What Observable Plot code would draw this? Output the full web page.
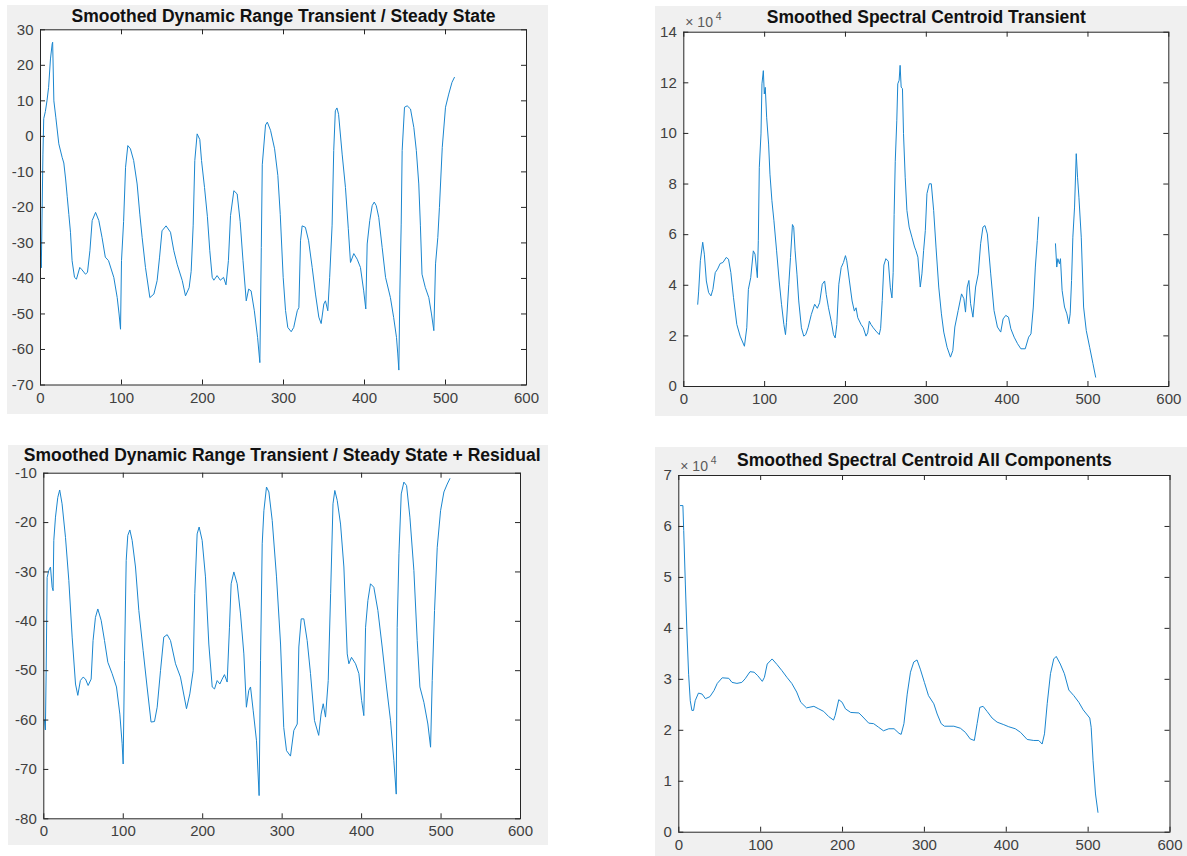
<!DOCTYPE html>
<html>
<head>
<meta charset="utf-8">
<script src="https://cdn.jsdelivr.net/npm/d3@7"></script>
<script src="https://cdn.jsdelivr.net/npm/@observablehq/plot@0.6"></script>
<style>
  html, body { margin: 0; padding: 0; background: #ffffff; }
  #root { position: relative; width: 1187px; height: 856px; overflow: hidden; }
  .panel { position: absolute; background: #f0f0f0; }
  .panel svg { display: block; }
</style>
</head>
<body>
<div id="root"></div>
<script>
// ---------- shared ticks ----------
const xTicks = [0, 100, 200, 300, 400, 500, 600];

// ---------- Panel 1: Smoothed Dynamic Range Transient / Steady State ----------
const drTitle = "Smoothed Dynamic Range Transient / Steady State";
const drYTicks = [-70, -60, -50, -40, -30, -20, -10, 0, 10, 20, 30];
const drX = [0,1,3,4,6,8,10,12.3,14.4,15,16.5,18.9,22.6,26.7,28.8,31,33,35,37,39,42,44.4,48.5,50.6,55.5,58,61,63.8,68,72,76,80,84,90.5,94.7,97,98.8,100,102.6,105,107.8,111,115,119.3,122.6,125.5,129.6,135,140,144,147,150,155,160.5,164.6,168.7,175,179,183.5,186,188.5,190.5,193.4,196.7,198.8,202.5,206,209,212,214,218,222,226,229,232,234.6,238.7,242.8,246.5,250,254,257,260,264,268,270.8,272.6,273.8,277.8,280,284,289,293,296,299.6,302.5,305.3,309.5,312.6,317,319,321,323,327,331,335.4,339.5,343.6,346.5,349.8,351.8,354.7,357,360,362,364,366,368,372.4,376.5,380,382.7,386.8,391,395,399,401.6,403.3,406.5,409.5,412,414.5,417.6,421.8,426,432,436,439.5,441,442.4,443.6,445.3,446.5,449.4,452.7,456.8,460.9,464,467,469,471,475,479.4,482.7,485.6,487.7,490.5,492.5,496,500,504,508,511];
const drY = [-34,-37,-5,5,7,10,13.8,21.8,26,26.5,10,5.4,-2.1,-5.9,-7.5,-12,-17,-22,-27,-35,-39.7,-40.2,-36.9,-37.4,-38.8,-38.3,-32.2,-23.7,-21.4,-23.7,-28.5,-34,-35,-39.7,-45.4,-50,-54.3,-35,-24,-8.7,-2.6,-3.5,-6.8,-13.4,-21.9,-28.5,-36.9,-45.4,-44.4,-40.6,-34,-26.6,-25.2,-27,-32.2,-36,-40.6,-44.9,-42.6,-38,-25,-6.8,0.7,-0.9,-6.8,-14.4,-22.5,-32.2,-39.7,-40.5,-39.2,-40.5,-39.7,-41.8,-35,-22.3,-15.3,-16.2,-24,-35,-46.3,-43,-43.5,-49.1,-56.6,-63.7,-31.3,-8,3.2,4.0,1.7,-3.5,-11,-22,-39.7,-49,-53.8,-55,-53.8,-49.1,-48.2,-29.4,-25.2,-25.6,-29.4,-36.9,-44.4,-50.9,-52.7,-47.2,-46.3,-49.1,-39.7,-25,-4,7.2,8.0,6.2,-5,-14.4,-26,-35.5,-33,-34.6,-36.9,-43.5,-48.6,-30.3,-23.7,-19.5,-18.5,-19.5,-22.8,-31.3,-39.7,-45.4,-51,-56.6,-61,-65.8,-44.4,-24.7,-4,8.2,8.6,7.7,2.5,-4,-13.4,-25,-38.8,-42.5,-45.4,-50,-54.7,-35.9,-28.5,-20,-3.1,8.2,11.9,15.2,16.6];

// ---------- Panel 2: Smoothed Spectral Centroid Transient (x10^4) ----------
const scTitle = "Smoothed Spectral Centroid Transient";
const scYTicks = [0, 2, 4, 6, 8, 10, 12, 14];
const scX = [17.2,18.4,20.5,23.4,25.4,27.9,30.7,33.6,36,38.9,41.8,45,48.4,52.5,55.3,58.2,61.5,65.6,69.7,75,77.9,79.9,82.8,86,88.1,91,92.2,93.4,95.5,96.7,98.4,99.6,100.8,102.5,104.9,106.6,109,111.5,114.8,118,120.9,123.8,125.8,127,129.9,132,134.4,136,137.7,140,142.2,145.5,148.4,150.8,153.7,157.8,161.9,165.2,168,171.3,174.2,176.2,179,182.4,185.2,187.3,189.3,191.8,194.7,197.5,200,201.6,204.9,208.2,211,213.1,215.2,219.3,222.1,225.4,227.5,229.5,231.6,234.4,237.7,241.8,243.5,245.5,247.5,250,253,255.5,257.5,259,260.2,261.6,263.5,264.7,266.4,267.6,268.9,270.5,271.8,273.9,276,278.8,282.2,285.5,287.1,289.6,292.5,294.6,296.7,298.8,300.8,303.7,306.2,309.1,312,315.4,318.7,321.6,325.7,329.9,332.8,335.3,339.4,343.6,346.5,348.5,350.6,352.7,354.8,357.7,361,364.3,367.2,370.1,372.6,375.5,379.7,383.8,388,392.1,395,398.3,401.7,404.6,408.7,412.9,417,422.4,426.6,429.5,432.4,434.9,437.3,439,450,459.8,461.4,462.7,464.7,466,468,471,473.9,476.3,478,479.7,481.3,483.4,485.5,487.1,488.8,491.7,494.6,497.9,502.1,506.2,509.5];
const scY = [3.25,3.77,4.97,5.70,5.23,4.17,3.71,3.58,3.84,4.50,4.64,4.86,4.90,5.10,5.03,4.50,3.51,2.45,1.99,1.59,2.32,3.84,4.30,5.36,5.23,4.30,5.76,8.66,9.98,11.96,12.48,11.56,11.82,10.64,9.58,8.39,7.34,6.55,5.36,4.17,3.25,2.45,2.05,2.52,4.04,5.10,6.40,6.29,5.36,4.44,3.38,2.32,1.99,2.05,2.32,2.85,3.25,3.09,3.31,4.04,4.17,3.64,3.11,2.58,2.05,1.92,2.45,4.04,4.70,4.90,5.17,4.97,4.17,3.38,2.98,3.11,2.72,2.45,2.32,1.99,2.12,2.58,2.45,2.32,2.19,2.05,2.3,3.4,4.8,5.05,4.95,3.9,3.5,4.5,6.8,8.9,10.5,11.96,12.1,12.69,11.83,11.77,9.99,8.27,6.96,6.30,5.90,5.51,5.38,5.11,3.93,4.45,5.38,6.17,7.62,8.01,8.01,6.96,5.51,3.93,2.87,2.15,1.55,1.16,1.42,2.35,3.0,3.66,3.47,2.94,3.93,4.19,3.27,2.74,3.93,4.45,5.64,6.30,6.36,6.03,4.45,3.0,2.35,2.15,2.67,2.81,2.74,2.28,1.95,1.69,1.49,1.49,1.95,2.08,3.14,4.72,5.77,6.69,NaN,5.64,4.72,5.05,4.85,5.05,3.80,3.14,2.87,2.48,2.87,4.19,5.90,7.09,9.20,8.27,7.48,5.90,3.14,2.21,1.55,0.90,0.37];

// ---------- Panel 3: Smoothed Dynamic Range Transient / Steady State + Residual ----------
const drrTitle = "Smoothed Dynamic Range Transient / Steady State + Residual";
const drrYTicks = [-80, -70, -60, -50, -40, -30, -20, -10];
const drrX = [1,2,3,4.2,6.3,8.4,10.5,11.7,12.6,14.7,17.6,20,23,27.3,31.5,35.7,39.9,42.8,46,49.5,52.5,55.8,59.6,62,65,68,72.2,76.4,80.6,86,91.5,95.7,98.6,99.9,101.6,103.7,105.7,108.3,111.2,115.4,119.6,125,130,135,139.3,142.7,146.9,151,155.3,159.5,165.8,172,179.6,183.8,188,190,193,195.5,199.3,203.5,207.7,212,214.9,218.2,221.6,224.5,227.4,230.8,233.7,235.8,239.2,243.4,247.6,251.8,255,258,260.2,263.5,267.7,271,272.8,274.9,277,280.3,283.3,287.5,292.9,298,302,305.5,310.5,314.7,319,321,324,327.3,331.5,335.7,340.7,346,349,351.7,354.6,358,361,364,366.3,369.3,373.5,377.7,381.9,384,387.3,392.4,396.6,400,402.8,405,407.9,411.2,415.4,420.5,425.9,431.4,436.4,440.6,443.6,444.8,447,449.9,453.2,456.6,460.8,465.8,470,473.4,478.4,483.4,486.8,488.9,491.8,495.2,499.4,503.6,507.8,511.1];
const drrY = [-60,-62,-50,-31.1,-29.7,-29,-33.1,-33.8,-23.6,-18.9,-14.9,-13.4,-16.2,-23,-31.7,-43.2,-52.7,-55,-52,-51.3,-51.7,-53,-51.7,-43.9,-39.2,-37.5,-39.8,-43.9,-48.3,-50.6,-53.3,-58.8,-64.8,-68.9,-47.9,-27.7,-22.6,-21.5,-23.6,-29,-37.8,-45.9,-53.3,-60.4,-60.3,-57.4,-50,-43.2,-42.7,-43.9,-48.6,-51.3,-57.7,-54.7,-50,-34.4,-22.3,-20.9,-23.6,-31,-44.6,-53.3,-53.7,-52,-52.7,-51.7,-50.8,-52.3,-41.2,-32.4,-30,-32.4,-38.5,-46.6,-57.4,-54,-53.3,-58,-64.2,-75.3,-47.9,-24.3,-17.6,-12.8,-13.8,-19.6,-31,-44.6,-61.5,-66.2,-67.3,-62.1,-60.8,-45.2,-39.5,-39.5,-43.9,-50.6,-60.1,-63.1,-58.8,-56.7,-59.4,-52,-34.4,-16.2,-13.5,-15.5,-20.3,-29,-46.6,-48.6,-47.3,-48.6,-50.6,-56,-59.1,-41.2,-35.8,-32.4,-33.1,-37.8,-45.2,-53.3,-60.1,-68.2,-75,-41.2,-26.3,-14.2,-11.8,-12.5,-18.9,-29.7,-43.9,-53.3,-56.4,-60.8,-65.5,-52,-37.8,-25,-17.6,-13.8,-12.2,-11.1];

// ---------- Panel 4: Smoothed Spectral Centroid All Components (x10^4) ----------
const scaTitle = "Smoothed Spectral Centroid All Components";
const scaYTicks = [0, 1, 2, 3, 4, 5, 6, 7];
const scaX = [2,5,6,8,10,12,14,16,18,20,24,28.5,32.5,38,43,47,53,61,65,71,77,81,87,92,96.5,102,104.6,108,114,120,126,132,138,144,149,156,165,171,177,183,189,191,195.4,199.5,203.6,210,220,225,232,238,244,250,256.5,263,269,271.6,275,279,283,287,291,295,300,305,311.5,315.6,320.5,324.5,336,344,350,356,361,364.4,367.7,371.7,376.6,382.7,388.8,397,403,411,417.4,425.5,433.6,439.7,443.8,446.7,450,454,458,461,466,471,476.4,482.5,488.6,494,502,503.7,506,509,512];
const scaY = [6.41,6.41,5.92,4.87,3.89,3.1,2.58,2.39,2.39,2.58,2.73,2.71,2.62,2.66,2.78,2.92,3.03,3.02,2.94,2.92,2.94,3.01,3.15,3.14,3.07,2.96,3.04,3.30,3.40,3.29,3.17,3.04,2.92,2.75,2.55,2.44,2.47,2.42,2.37,2.27,2.20,2.29,2.60,2.55,2.42,2.35,2.34,2.26,2.14,2.13,2.06,1.99,2.03,2.03,1.94,1.92,2.13,2.71,3.14,3.34,3.38,3.20,2.94,2.68,2.52,2.32,2.13,2.08,2.08,2.04,1.96,1.83,1.80,2.13,2.45,2.47,2.37,2.24,2.16,2.11,2.07,2.03,1.96,1.82,1.80,1.80,1.73,1.93,2.52,3.11,3.40,3.45,3.30,3.11,2.79,2.68,2.55,2.40,2.24,2.06,1.41,0.75,0.39];

// ---------- styling ----------
const FONT = "'Liberation Sans', Arial, Helvetica, sans-serif";
const LINE = "#1a86cf";
const AXIS = "#262626";
const LABEL = "#404040";

function panel(cfg) {
  const { gray, frame, title, titleGap, yDomain, yTicks, xs, ys, exponent } = cfg;
  const width = gray.w, height = gray.h;
  const marginLeft = frame.l - gray.x;
  const marginTop = frame.t - gray.y;
  const marginRight = gray.x + gray.w - frame.r;
  const marginBottom = gray.y + gray.h - frame.b;
  const innerW = width - marginLeft - marginRight;
  const innerH = height - marginTop - marginBottom;
  const data = xs.map((x, i) => ({ x, y: ys[i] }));
  const tick = 5;
  const marks = [
    Plot.frame({ fill: "white", stroke: null }),
    Plot.line(data, { x: "x", y: "y", stroke: LINE, strokeWidth: 1 }),
    Plot.tickX(xTicks, { x: d => d, insetTop: innerH - tick, stroke: AXIS }),
    Plot.tickX(xTicks, { x: d => d, insetBottom: innerH - tick, stroke: AXIS }),
    Plot.tickY(yTicks, { y: d => d, insetRight: innerW - tick, stroke: AXIS }),
    Plot.tickY(yTicks, { y: d => d, insetLeft: innerW - tick, stroke: AXIS }),
    Plot.axisX(xTicks, { anchor: "bottom", tickSize: 0, tickPadding: 7, tickFormat: d => String(d), fontSize: 15, color: LABEL, label: null }),
    Plot.axisY(yTicks, { anchor: "left", tickSize: 0, tickPadding: 7, tickFormat: d => String(d), fontSize: 15, color: LABEL, label: null }),
    Plot.frame({ stroke: AXIS, strokeWidth: 1 }),
    Plot.text([title], { text: d => d, frameAnchor: "top", lineAnchor: "bottom", dy: -titleGap, fontSize: 17.5, fontWeight: "bold", fill: "#111111" })
  ];
  if (exponent) {
    marks.push(
      Plot.text(["× 10"], { text: d => d, frameAnchor: "top-left", textAnchor: "start", lineAnchor: "bottom", dx: 1.5, dy: exponent.dy, fontSize: 14, fill: "#5a5a5a" }),
      Plot.text(["4"], { text: d => d, frameAnchor: "top-left", textAnchor: "start", lineAnchor: "bottom", dx: 32, dy: exponent.dy - 7, fontSize: 10.5, fill: "#5a5a5a" })
    );
  }
  const svg = Plot.plot({
    width, height, marginLeft, marginTop, marginRight, marginBottom,
    x: { domain: [0, 600] },
    y: { domain: yDomain },
    style: { fontFamily: FONT, background: "transparent", overflow: "visible" },
    marks
  });
  const div = document.createElement("div");
  div.className = "panel";
  div.style.left = gray.x + "px";
  div.style.top = gray.y + "px";
  div.style.width = gray.w + "px";
  div.style.height = gray.h + "px";
  div.appendChild(svg);
  document.getElementById("root").appendChild(div);
}

panel({
  gray: { x: 7, y: 5, w: 541, h: 409 },
  frame: { l: 40, t: 29.3, r: 526, b: 384.5 },
  title: drTitle, titleGap: 8.3,
  yDomain: [-70, 30], yTicks: drYTicks, xs: drX, ys: drY
});
panel({
  gray: { x: 655, y: 6, w: 532, h: 410 },
  frame: { l: 683.3, t: 31.7, r: 1168.3, b: 386 },
  title: scTitle, titleGap: 9,
  yDomain: [0, 14], yTicks: scYTicks, xs: scX, ys: scY,
  exponent: { dy: -5 }
});
panel({
  gray: { x: 8, y: 445, w: 540, h: 400 },
  frame: { l: 43.3, t: 472.7, r: 520, b: 818.3 },
  title: drrTitle, titleGap: 12,
  yDomain: [-80, -10], yTicks: drrYTicks, xs: drrX, ys: drrY
});
panel({
  gray: { x: 655, y: 447, w: 532, h: 409 },
  frame: { l: 678.3, t: 475, r: 1169.5, b: 831.7 },
  title: scaTitle, titleGap: 10,
  yDomain: [0, 7], yTicks: scaYTicks, xs: scaX, ys: scaY,
  exponent: { dy: -4.3 }
});
</script>
</body>
</html>
